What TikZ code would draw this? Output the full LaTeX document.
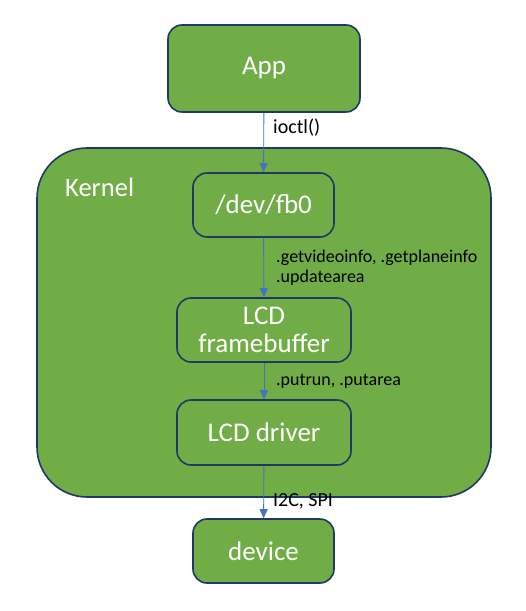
\documentclass[tikz,border=0pt]{standalone}
\usepackage{fontspec}
\setmainfont{Carlito}
\definecolor{leaf}{HTML}{70AD47}
\definecolor{navy}{HTML}{1F3864}
\definecolor{link}{HTML}{4472C4}
\usetikzlibrary{positioning, arrows.meta}

\tikzset{
  block/.style={draw=navy, line width=1.6pt, fill=leaf, rounded corners=14pt,
    text=white, font=\fontsize{27}{31}\selectfont, align=center, inner sep=0pt},
  call/.style={draw=link, line width=0.9pt, -{Triangle[length=9pt,width=8pt]}},
  tag/.style={anchor=west, font=\fontsize{18}{21}\selectfont, inner sep=0pt},
  bigtag/.style={tag, font=\fontsize{20}{24}\selectfont}
}

\begin{document}
\begin{tikzpicture}[x=1pt, y=-1pt]
  \useasboundingbox (0,0) rectangle (526,611);
  % kernel area
  \node[block, rounded corners=50pt, minimum width=454pt, minimum height=349pt] (kernel) at (264,322.5) {};
  \node[anchor=west, text=white, font=\fontsize{26.5}{30}\selectfont, inner sep=0pt] (kname) at (65,187.5) {Kernel};

  \node[block, minimum width=192pt, minimum height=87pt] (app) at (264,68.5) {App};
  \node[block, minimum width=141pt, minimum height=64pt] (fb) at (263.5,205) {/dev/fb0};
  \node[block, minimum width=174pt, minimum height=64pt] (lcdfb) at (264,330) {LCD\\[-3pt]framebuffer};
  \node[block, minimum width=174pt, minimum height=65pt] (drv) at (264,432.5) {LCD driver};
  \node[block, minimum width=141pt, minimum height=64pt] (dev) at (263.5,551) {device};

  % connectors
  \draw[call] (app) -- (fb);
  \draw[call] (fb) -- (lcdfb);
  \draw[call] (lcdfb) -- (drv);
  \draw[call] (drv) -- (dev);

  \node[bigtag] (l1) at (273,128) {ioctl()};
  \node[tag, align=left] (l2) at (276,268) {.getvideoinfo, .getplaneinfo\\[-1pt].updatearea};
  \node[tag] (l3) at (276,381) {.putrun, .putarea};
  \node[bigtag] (l4) at (273,501) {I2C, SPI};
\end{tikzpicture}
\end{document}
